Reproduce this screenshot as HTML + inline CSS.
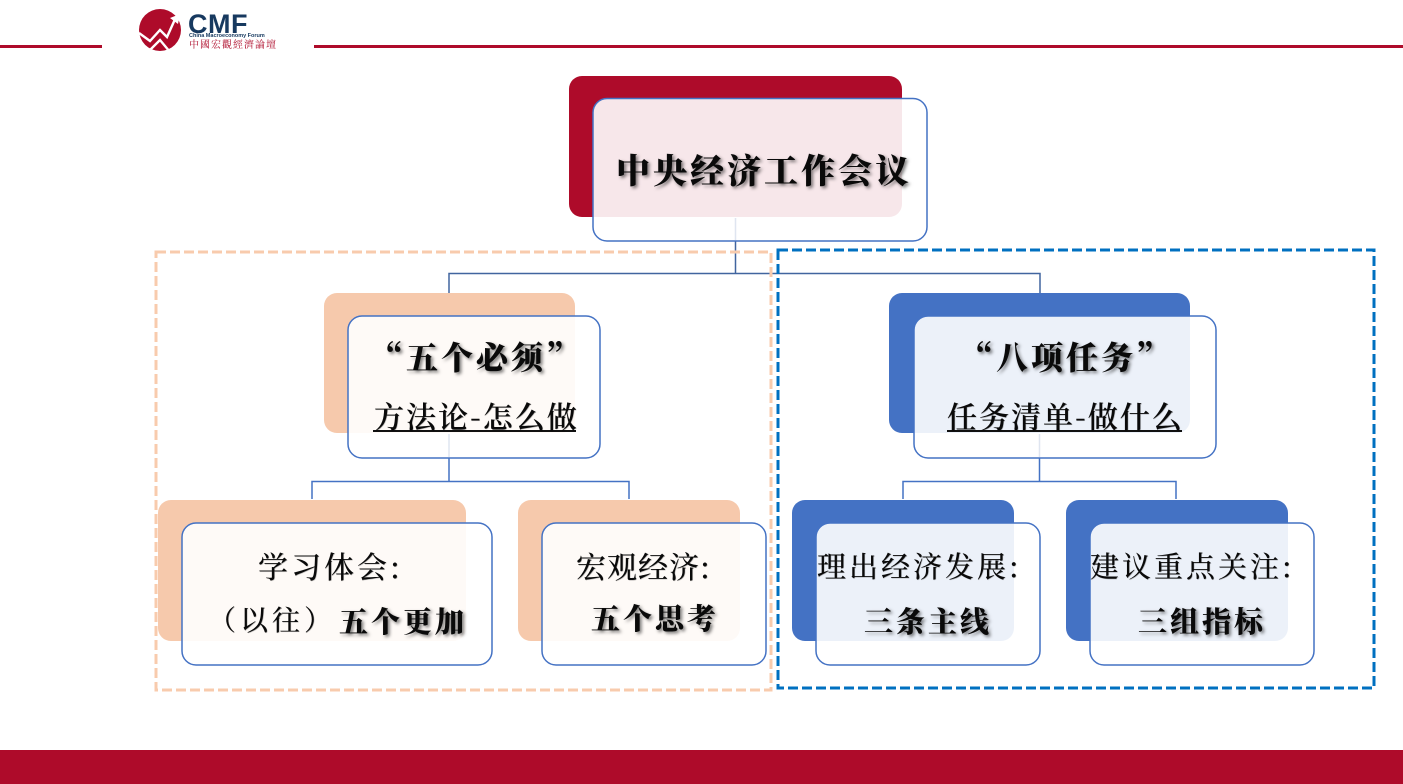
<!DOCTYPE html>
<html lang="zh"><head><meta charset="utf-8">
<style>
html,body{margin:0;padding:0;background:#fff}
#p{position:relative;width:1403px;height:784px;overflow:hidden;background:#fff}
svg{position:absolute;left:0;top:0}
.t{position:absolute;white-space:nowrap;font-family:"Noto Serif CJK SC",serif;color:#0a0a0a;line-height:1}
.b{font-weight:900;text-shadow:2px 2px 3px rgba(0,0,0,.5)}
.r{font-weight:500;text-shadow:.5px .5px .5px rgba(0,0,0,.3)}
.s{font-weight:600;text-shadow:.5px .5px .5px rgba(0,0,0,.3)}
</style></head><body><div id="p">
<svg width="1403" height="784" viewBox="0 0 1403 784">
<rect x="0" y="45" width="102" height="3" fill="#ae0b2a"/>
<rect x="314" y="45" width="1089" height="3" fill="#ae0b2a"/>
<rect x="0" y="750" width="1403" height="34" fill="#ae0b2a"/>
<!-- logo -->
<circle cx="160" cy="30" r="21" fill="#ae0b2a"/>
<path d="M139 33 L150 41 L160 30 L167 37 L176 17" fill="none" stroke="#fff" stroke-width="2.4"/>
<path d="M139 44 L150 50 L160 40 L170 52" fill="none" stroke="#fff" stroke-width="2.4"/>
<path d="M170 18 L180 14 L178 24 Z" fill="#fff"/>
<!-- connectors -->
<g fill="none" stroke="#41659f" stroke-width="1.5">
<path d="M735.5 241V273M449 293V273.5H1040V293"/>
</g>
<g fill="none" stroke="#4472c4" stroke-width="1.5">
<path d="M449 458V481M312 499V481.5H629V499"/>
<path d="M1039.5 458V481M903 499V481.5H1176V499"/>
</g>
<!-- dashed frames -->
<rect x="156" y="252" width="615" height="438" fill="none" stroke="#f8cbad" stroke-width="3" stroke-dasharray="10 4"/>
<rect x="778" y="250" width="596" height="438" fill="none" stroke="#0070c0" stroke-width="3" stroke-dasharray="10 4"/>
<!-- back boxes -->
<rect x="569" y="76" width="333" height="141" rx="13" fill="#ae0b2a"/>
<rect x="324" y="293" width="251" height="140" rx="13" fill="#f6c9ac"/>
<rect x="889" y="293" width="301" height="140" rx="13" fill="#4472c4"/>
<rect x="158" y="500" width="308" height="141" rx="13" fill="#f6c9ac"/>
<rect x="518" y="500" width="222" height="141" rx="13" fill="#f6c9ac"/>
<rect x="792" y="500" width="222" height="141" rx="13" fill="#4472c4"/>
<rect x="1066" y="500" width="222" height="141" rx="13" fill="#4472c4"/>
<!-- front boxes -->
<g fill="#fff" fill-opacity=".9" stroke="#4472c4" stroke-width="1.5">
<rect x="593" y="98.5" width="334" height="142.5" rx="14"/>
<rect x="348" y="316" width="252" height="142" rx="14"/>
<rect x="914" y="316" width="302" height="142" rx="14"/>
<rect x="182" y="523" width="310" height="142" rx="14"/>
<rect x="542" y="523" width="224" height="142" rx="14"/>
<rect x="816" y="523" width="224" height="142" rx="14"/>
<rect x="1090" y="523" width="224" height="142" rx="14"/>
</g>
<!-- faint connector traces inside boxes -->
<g stroke="#dfe5f0" stroke-width="1.5">
<path d="M735.5 218V240M449 434V457M1039.5 434V457"/>
</g>
<!-- underlines -->
<rect x="373" y="430" width="203" height="2" fill="#111"/>
<rect x="947" y="430" width="235" height="2" fill="#111"/>
</svg>

<div class="t" style="left:188px;top:9px;font:700 27px 'Liberation Sans',sans-serif;color:#17395f;letter-spacing:.5px">CMF</div>
<div class="t" style="left:189px;top:33px;font:700 5.5px 'Liberation Sans',sans-serif;color:#17395f">China Macroeconomy Forum</div>
<div class="t" style="left:189px;top:39px;font-size:10px;color:#ae0b2a;letter-spacing:1px;font-family:'Noto Serif CJK TC',serif">中國宏觀經濟論壇</div>

<div class="t b" style="left:616px;top:152px;font-size:34px;letter-spacing:3px">中央经济工作会议</div>

<div class="t b" style="left:371px;top:340px;font-size:32px;letter-spacing:3px">“五个必须”</div>
<div class="t s" style="left:374px;top:400px;font-size:30px;letter-spacing:2px">方法论-怎么做</div>

<div class="t b" style="left:961px;top:340px;font-size:32px;letter-spacing:3px">“八项任务”</div>
<div class="t s" style="left:947px;top:400px;font-size:30px;letter-spacing:2px">任务清单-做什么</div>

<div class="t r" style="left:258px;top:550px;font-size:30px;letter-spacing:3px">学习体会:</div>
<div class="t r" style="left:208px;top:605px;font-size:28px;letter-spacing:4px">（以往）</div>
<div class="t b" style="left:339px;top:606px;font-size:29px;letter-spacing:3px">五个更加</div>

<div class="t r" style="left:576px;top:550px;font-size:30px;letter-spacing:1px">宏观经济:</div>
<div class="t b" style="left:591px;top:603px;font-size:29px;letter-spacing:3px">五个思考</div>

<div class="t r" style="left:817px;top:551px;font-size:29px;letter-spacing:3px">理出经济发展:</div>
<div class="t b" style="left:864px;top:606px;font-size:29px;letter-spacing:3px">三条主线</div>

<div class="t r" style="left:1090px;top:551px;font-size:29px;letter-spacing:3px">建议重点关注:</div>
<div class="t b" style="left:1138px;top:606px;font-size:29px;letter-spacing:3px">三组指标</div>
</div></body></html>
